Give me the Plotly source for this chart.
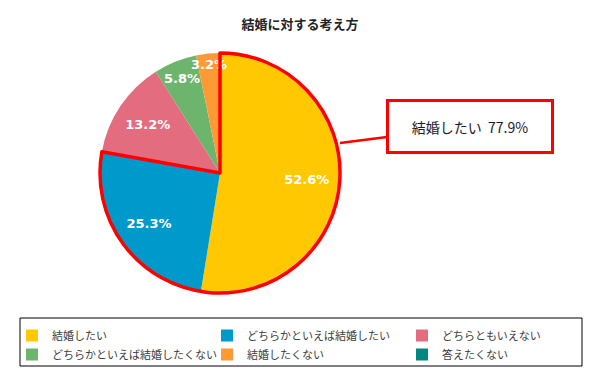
import plotly.graph_objects as go

title = "結婚に対する考え方"
categories = ["結婚したい", "どちらかといえば結婚したい", "どちらともいえない",
              "どちらかといえば結婚したくない", "結婚したくない", "答えたくない"]
values = [52.6, 25.3, 13.2, 5.8, 3.2, 0.0]
colors = ["#FFC800", "#0099CC", "#E36C7E", "#6DB56D", "#FF9933", "#00877E"]

W, H = 600, 380
want_total = values[0] + values[1]
callout_text = f"{categories[0]}  {want_total:.1f}%"

# pie domain (pixel -> paper)
cx, cy, r = 220, 173, 120
dom_x = [(cx - r) / W, (cx + r) / W]
dom_y = [1 - (cy + r) / H, 1 - (cy - r) / H]

labels_text = [f"{v:.1f}%" if v > 0 else "" for v in values]
transparent = ["rgba(0,0,0,0)"] * len(values)

fig = go.Figure()
# coloured slices
fig.add_trace(go.Pie(
    labels=categories, values=values, sort=False, direction="clockwise", rotation=0,
    marker=dict(colors=colors, line=dict(width=0)),
    textinfo="none", domain=dict(x=dom_x, y=dom_y), showlegend=True,
    hoverinfo="label+value",
))
# percentage labels (transparent ring so labels sit toward the outer part)
fig.add_trace(go.Pie(
    labels=[c + " " for c in categories], values=values, sort=False, direction="clockwise",
    rotation=0, hole=0.45,
    marker=dict(colors=transparent, line=dict(width=0)),
    text=labels_text, textinfo="text", textposition="inside",
    insidetextorientation="horizontal",
    textfont=dict(family="DejaVu Sans", size=13, color="white", weight="bold"),
    domain=dict(x=dom_x, y=dom_y), showlegend=False, hoverinfo="skip",
))
# red outline around the "want to marry" group
fig.add_trace(go.Pie(
    labels=["_grp_a", "_grp_b"], values=[want_total, sum(values) - want_total],
    sort=False, direction="clockwise", rotation=0,
    marker=dict(colors=["rgba(0,0,0,0)", "rgba(0,0,0,0)"],
                line=dict(color=["#FF0000", "rgba(0,0,0,0)"], width=[3.5, 0])),
    textinfo="none", hoverinfo="skip", showlegend=False,
    domain=dict(x=dom_x, y=dom_y),
))

fig.update_layout(
    width=W, height=H,
    margin=dict(l=0, r=0, t=0, b=0, autoexpand=False),
    paper_bgcolor="white",
    uniformtext=dict(minsize=13, mode="show"),
    font=dict(family="Noto Sans CJK JP", color="#333333"),
    title=dict(text=f"<b>{title}</b>", x=0.5, xanchor="center", y=1 - 24 / H, yanchor="middle",
               font=dict(size=13, color="#222222", family="Noto Sans CJK JP")),
    legend=dict(orientation="h", x=12 / W, xanchor="left", y=1 - 321 / H, yanchor="top",
                entrywidth=150, entrywidthmode="pixels",
                font=dict(size=11, color="#404040", family="Noto Sans CJK JP"),
                bgcolor="rgba(0,0,0,0)", traceorder="normal"),
    shapes=[dict(type="rect", xref="paper", yref="paper",
                 x0=20 / W, x1=582 / W, y0=1 - 366 / H, y1=1 - 318 / H,
                 line=dict(color="black", width=1))],
    annotations=[dict(
        x=340 / W, y=1 - 143 / H, xref="paper", yref="paper",
        ax=129.5, ay=-16.5, axref="pixel", ayref="pixel",
        text=callout_text, showarrow=True, arrowhead=0, arrowwidth=2.5, arrowcolor="#FF0000",
        bordercolor="#FF0000", borderwidth=3, bgcolor="white",
        width=160, height=47, align="center", valign="middle",
        font=dict(size=14, color="#1A1A2E", family="Noto Sans CJK JP"),
    )],
)

fig.write_html("out.html", config={"displayModeBar": False},
               post_script="document.body.style.margin='0';document.body.style.overflow='hidden';")
